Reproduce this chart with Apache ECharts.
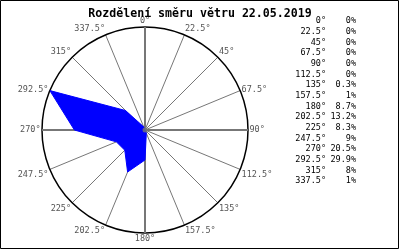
<!DOCTYPE html>
<html>
<head>
<meta charset="utf-8">
<script src="https://cdn.jsdelivr.net/npm/echarts@6/dist/echarts.min.js"></script>
<style>html,body{margin:0;padding:0;background:#fff;}#c{width:400px;height:250px;}</style>
</head>
<body>
<div id="c"></div>
<script>
var titleText = 'Rozdělení směru větru 22.05.2019';
var directions = [0, 22.5, 45, 67.5, 90, 112.5, 135, 157.5, 180, 202.5, 225, 247.5, 270, 292.5, 315, 337.5];
var dirLabels = ['0°','22.5°','45°','67.5°','90°','112.5°','135°','157.5°','180°','202.5°','225°','247.5°','270°','292.5°','315°','337.5°'];
var shares = [0, 0, 0, 0, 0, 0, 0.3, 1, 8.7, 13.2, 8.3, 9, 20.5, 29.9, 8, 1];
var cardinalAngles = [0, 90, 180, 270];
var rMax = 29.9;

var mono = '"DejaVu Sans Mono", "Liberation Mono", monospace';

var areaData = directions.map(function (d, i) { return [shares[i], d]; });
areaData.push([shares[0], 360]);

var series = [];
cardinalAngles.forEach(function (a) {
  series.push({
    type: 'line', coordinateSystem: 'polar', symbol: 'none', silent: true, z: 1,
    lineStyle: { color: '#777', width: 2 },
    data: [[0, a], [rMax, a]]
  });
});
series.push({
  type: 'line', coordinateSystem: 'polar', symbol: 'none', z: 3,
  lineStyle: { color: '#0000ff', width: 1 },
  areaStyle: { color: '#0000ff', opacity: 1 },
  data: areaData
});
series.push({
  type: 'scatter', coordinateSystem: 'polar', symbolSize: 5, z: 4, silent: true,
  itemStyle: { color: '#777' },
  data: [[0, 0]]
});

var graphics = [{
  type: 'rect', shape: { x: 0.5, y: 0.5, width: 398, height: 248 },
  style: { fill: 'none', stroke: '#000', lineWidth: 1 }, silent: true
}];
var rowTop = 21, rowStep = 10.67;
dirLabels.forEach(function (lab, i) {
  graphics.push({
    type: 'text', x: 326, y: rowTop + i * rowStep,
    style: { text: lab, fill: '#000', font: '8.5px ' + mono, align: 'right', verticalAlign: 'middle' }
  });
  graphics.push({
    type: 'text', x: 356, y: rowTop + i * rowStep,
    style: { text: shares[i] + '%', fill: '#000', font: '8.5px ' + mono, align: 'right', verticalAlign: 'middle' }
  });
});

var chart = echarts.init(document.getElementById('c'), null, { renderer: 'canvas' });
chart.setOption({
  animation: false,
  backgroundColor: '#fff',
  title: {
    text: titleText, left: 'center', top: 3,
    textStyle: { fontFamily: mono, fontSize: 11.6, fontWeight: 'bold', color: '#000' }
  },
  polar: { center: [145, 130], radius: 103 },
  angleAxis: {
    type: 'value', min: 0, max: 360, interval: 22.5, startAngle: 90, clockwise: true,
    axisLine: { show: true, lineStyle: { color: '#000', width: 1.5 } },
    axisTick: { show: false },
    splitLine: { show: true, lineStyle: { color: '#777', width: 1 } },
    axisLabel: {
      margin: 1.5, color: '#555', fontFamily: mono, fontSize: 8.5,
      formatter: function (v) {
        var idx = Math.round(v / 22.5);
        if (idx >= dirLabels.length) return '';
        if (idx === 3 || idx === 13) return '{m|' + dirLabels[idx] + '}';
        return dirLabels[idx];
      },
      rich: {
        m: { color: '#555', fontFamily: mono, fontSize: 8.5, padding: [0, 0, -4, 0] }
      }
    }
  },
  radiusAxis: {
    type: 'value', min: 0, max: rMax,
    axisLine: { show: false }, axisTick: { show: false }, axisLabel: { show: false },
    splitLine: { show: false }
  },
  graphic: graphics,
  series: series
});
</script>
</body>
</html>
